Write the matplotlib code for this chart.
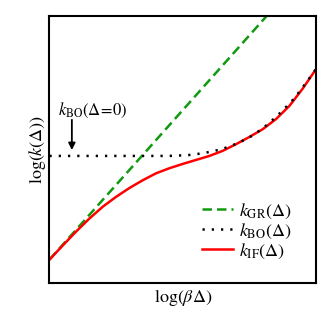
import matplotlib
matplotlib.use("Agg")
import matplotlib.pyplot as plt

plt.rcParams['font.family'] = ['Liberation Serif', 'DejaVu Serif']
plt.rcParams['mathtext.fontset'] = 'stix'

# values (arbitrary log units, 0..1)
x_gr = [0.0, 0.816]
y_gr = [0.087, 1.0]

x_bo = [0.0, 0.45, 0.52, 0.577, 0.646, 0.708, 0.767, 0.821, 0.871, 0.918, 0.959, 1.0]
y_bo = [0.475, 0.475, 0.478, 0.485, 0.50, 0.523, 0.554, 0.595, 0.641, 0.69, 0.744, 0.80]

x_if = [0.0, 0.05, 0.10, 0.15, 0.20, 0.25, 0.30, 0.35, 0.40, 0.45, 0.50,
        0.55, 0.60, 0.65, 0.70, 0.75, 0.80, 0.85, 0.90, 0.95, 1.0]
y_if = [0.087, 0.140, 0.192, 0.241, 0.285, 0.322, 0.355, 0.384, 0.410, 0.429, 0.445,
        0.460, 0.475, 0.494, 0.519, 0.546, 0.575, 0.613, 0.662, 0.727, 0.80]

fig = plt.figure(figsize=(3.32, 3.32), dpi=100)
ax = fig.add_axes([0.149, 0.148, 0.803, 0.805])

ax.plot(x_gr, y_gr, color='#119911', lw=1.8, linestyle=(0, (3.8, 2.0)),
        label=r'$k_{\rm GR}(\Delta)$')
# dotted drawn on top of the red curve, as in the original
ax.plot(x_bo, y_bo, color='black', lw=1.8, linestyle=(0, (0.9, 2.8)),
        label=r'$k_{\rm BO}(\Delta)$', zorder=3)
ax.plot(x_if, y_if, color='red', lw=1.8, label=r'$k_{\rm IF}(\Delta)$', zorder=2)

ax.text(0.161, 0.647, r'$k_{\rm BO}(\Delta\!=\!0)$', transform=ax.transAxes,
        ha='center', va='center', fontsize=12)
ax.annotate('', xy=(0.084, 0.497), xytext=(0.084, 0.61),
            arrowprops=dict(arrowstyle='-|>', color='black', lw=1.3,
                            mutation_scale=10, shrinkA=0, shrinkB=0))

ax.set_xlim(0, 1)
ax.set_ylim(0, 1)
ax.set_xticks([])
ax.set_yticks([])
for s in ax.spines.values():
    s.set_linewidth(1.5)

ax.set_xlabel(r'$\mathrm{log}(\beta\Delta)$', fontsize=13, labelpad=4)
ax.set_ylabel(r'$\mathrm{log}(k(\Delta))$', fontsize=13, labelpad=1)

ax.legend(loc='lower right', frameon=False, fontsize=13, handlelength=1.7,
          handletextpad=0.35, labelspacing=0.05, borderaxespad=0,
          bbox_to_anchor=(0.935, 0.056))

fig.savefig('out.png', dpi=100)
